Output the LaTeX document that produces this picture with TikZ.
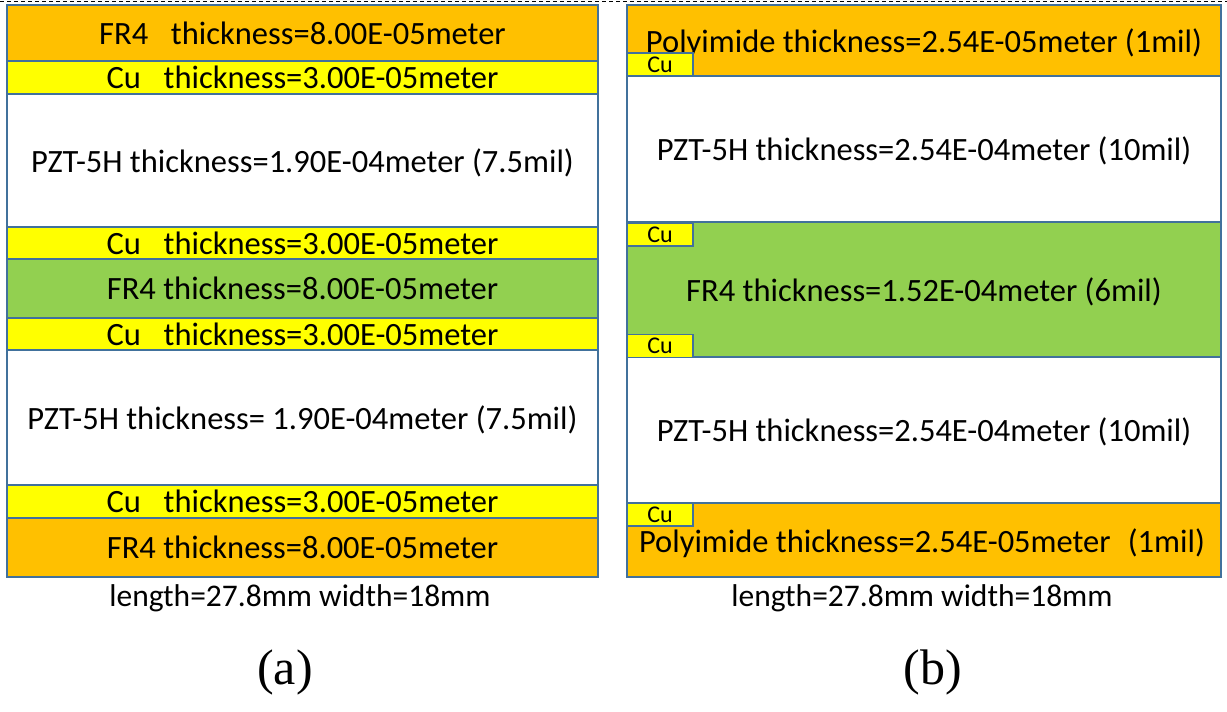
\documentclass[tikz,border=0pt]{standalone}
\usepackage{fontspec}
\setmainfont{Carlito}
\newfontfamily\capfont{Liberation Serif}
\definecolor{fr4o}{HTML}{FFC000}
\definecolor{cuy}{HTML}{FFFF00}
\definecolor{fr4g}{HTML}{92D050}
\definecolor{edge}{HTML}{41719C}
\tikzset{
  layer/.style={draw=edge, line width=1.3pt, inner sep=0pt, text depth=0pt, font=\fontsize{32.5}{34}\selectfont},
  lpan/.style={layer, minimum width=591pt},
  rpan/.style={layer, minimum width=594pt},
  cubox/.style={draw=edge, line width=1.3pt, fill=cuy, minimum width=66pt, minimum height=23pt, inner sep=0pt, text depth=0pt, font=\fontsize{24}{25}\selectfont},
  txt/.style={inner sep=0pt, font=\fontsize{31.5}{33}\selectfont},
  captxt/.style={inner sep=0pt, font=\capfont\fontsize{50}{52}\selectfont}
}
\begin{document}
\begin{tikzpicture}[x=1pt,y=-1pt]
\useasboundingbox (0,0) rectangle (1227,712);
\fill[white] (0,0) rectangle (1227,712);
\coordinate (dl) at (0,1);
\coordinate (dr) at (1227,1);
\draw[line width=1pt, dash pattern=on 4pt off 3pt] (dl) -- (dr);
% left stack
\node[lpan, fill=fr4o, minimum height=56pt] (a1) at (302.5,33) {FR4\hspace{0.7em}thickness=8.00E-05meter};
\node[lpan, fill=cuy, minimum height=33pt] (a2) at (302.5,77.5) {Cu\hspace{0.7em}thickness=3.00E-05meter};
\node[lpan, fill=white, minimum height=133pt] (a3) at (302.5,160.5) {PZT-5H thickness=1.90E-04meter (7.5mil)};
\node[lpan, fill=cuy, minimum height=32pt] (a4) at (302.5,243) {Cu\hspace{0.7em}thickness=3.00E-05meter};
\node[lpan, fill=fr4g, minimum height=59pt] (a5) at (302.5,288.5) {FR4 thickness=8.00E-05meter};
\node[lpan, fill=cuy, minimum height=32pt] (a6) at (302.5,334) {Cu\hspace{0.7em}thickness=3.00E-05meter};
\node[lpan, fill=white, minimum height=135pt] (a7) at (302.5,417.5) {PZT-5H thickness= 1.90E-04meter (7.5mil)};
\node[lpan, fill=cuy, minimum height=33pt] (a8) at (302.5,501.5) {Cu\hspace{0.7em}thickness=3.00E-05meter};
\node[lpan, fill=fr4o, minimum height=59pt] (a9) at (302.5,547.5) {FR4 thickness=8.00E-05meter};
\node[txt] (la) at (300,598) {length=27.8mm width=18mm};
\node[captxt] (ca) at (285,672) {(a)};
% right stack
\node[rpan, fill=fr4o, minimum height=71pt] (b1) at (924,40.5) {Polyimide thickness=2.54E-05meter (1mil)};
\node[rpan, fill=white, minimum height=146pt] (b2) at (924,149) {PZT-5H thickness=2.54E-04meter (10mil)};
\node[rpan, fill=fr4g, minimum height=135pt] (b3) at (924,289.5) {FR4 thickness=1.52E-04meter (6mil)};
\node[rpan, fill=white, minimum height=146pt] (b4) at (924,430) {PZT-5H thickness=2.54E-04meter (10mil)};
\node[rpan, fill=fr4o, minimum height=74pt] (b5) at (924,540) {};
\node[inner sep=0pt, text depth=0pt, font=\fontsize{32.5}{34}\selectfont] (b5t) at (922,541) {Polyimide thickness=2.54E-05meter\hspace{0.3em} (1mil)};
\node[cubox] (c1) at (660,64.5) {Cu};
\node[cubox] (c2) at (660,234.5) {Cu};
\node[cubox] (c3) at (660,346) {Cu};
\node[cubox] (c4) at (660,514.5) {Cu};
\node[txt] (lb) at (922,598) {length=27.8mm width=18mm};
\node[captxt] (cb) at (933,672) {(b)};
\end{tikzpicture}
\end{document}
